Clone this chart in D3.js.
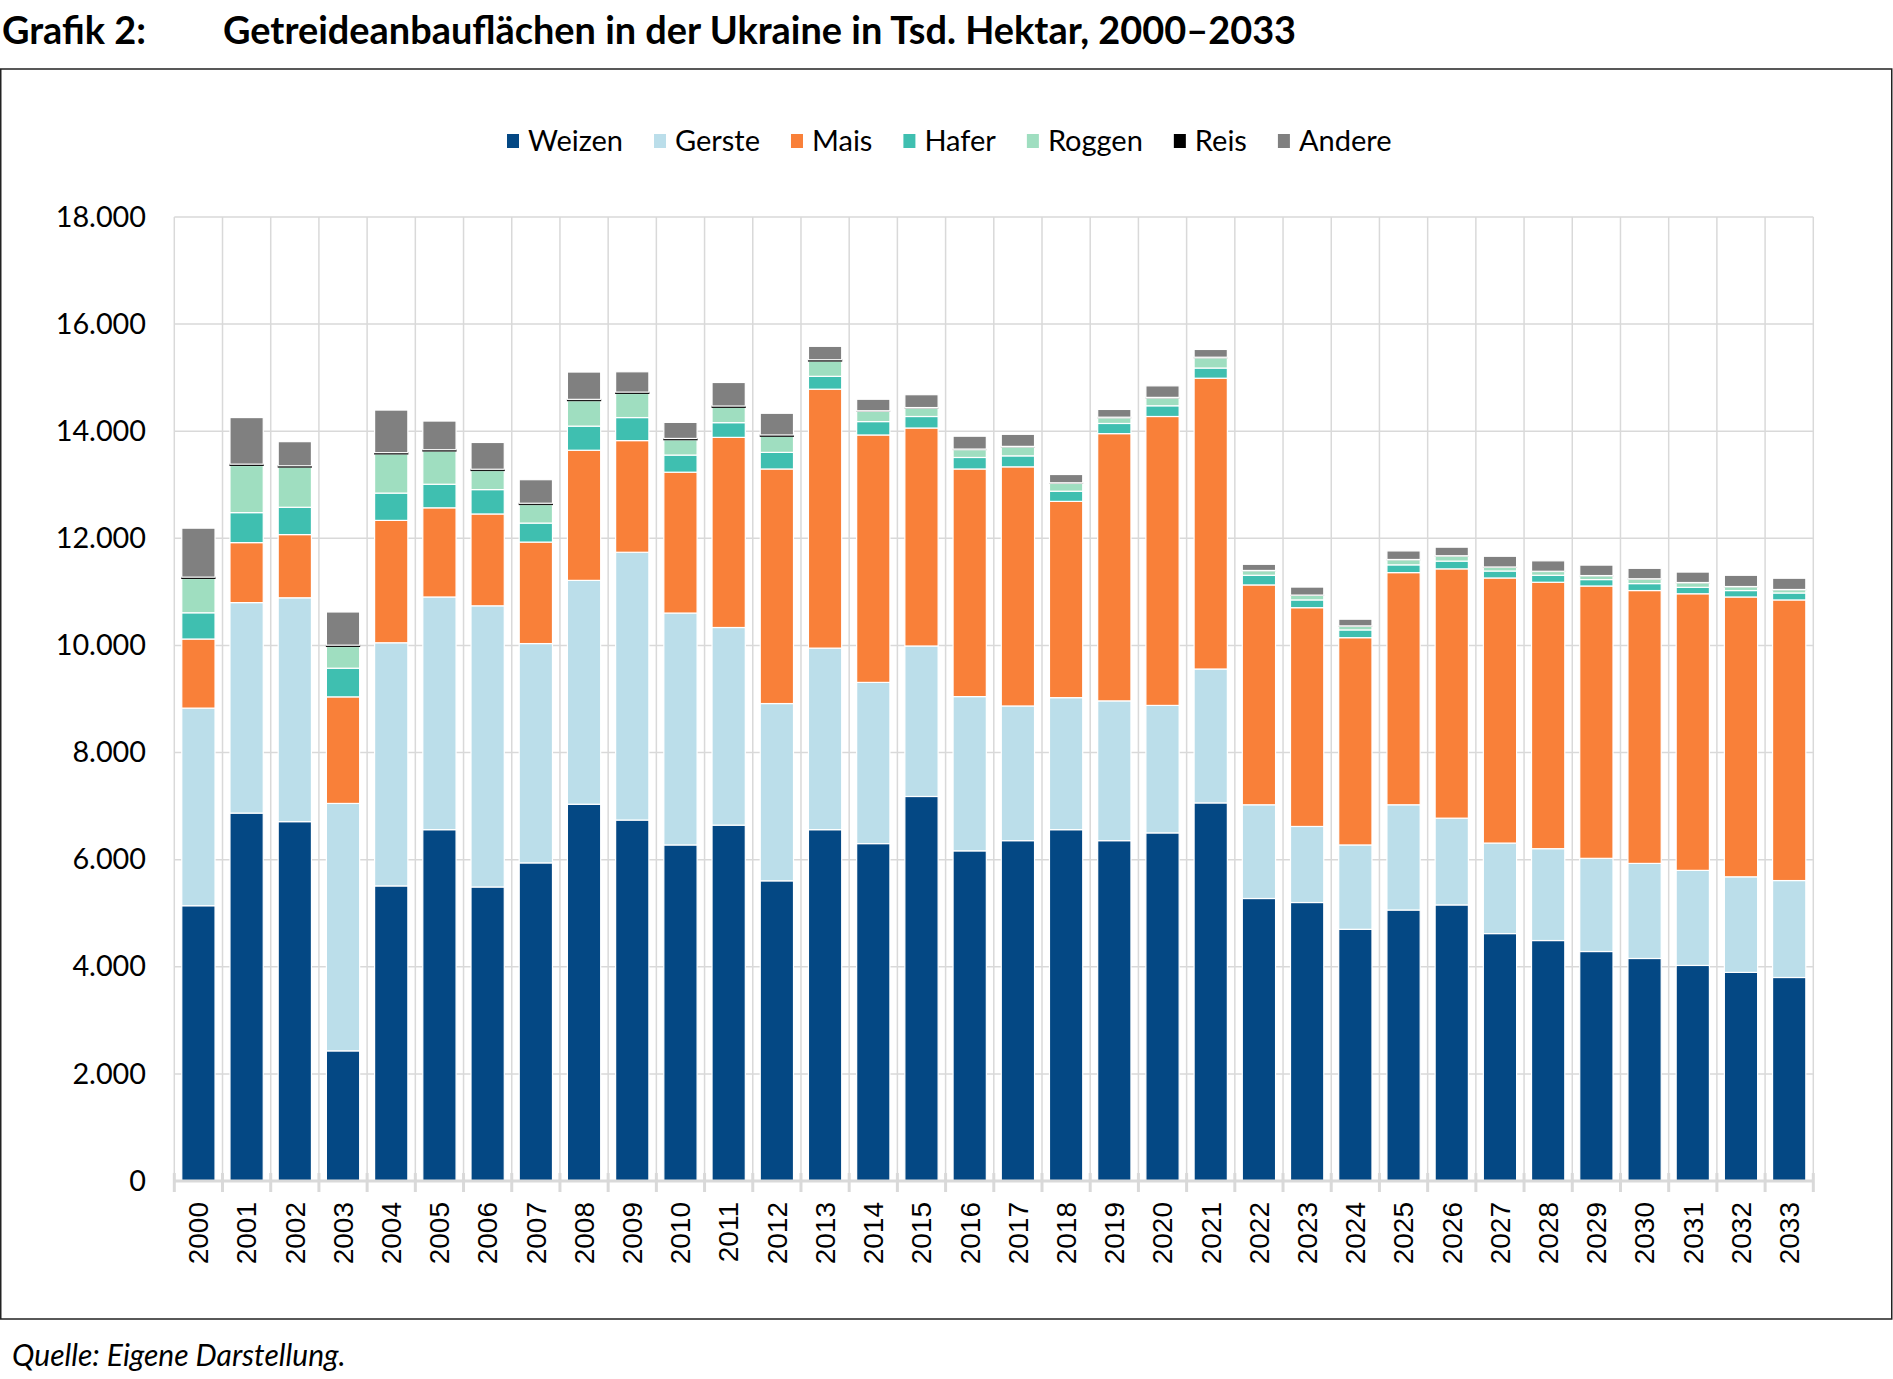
<!DOCTYPE html>
<html><head><meta charset="utf-8">
<script src="https://cdn.jsdelivr.net/npm/d3@7"></script>
<style>
body{margin:0;background:#fff;}
svg{display:block;font-family:Lato,"Noto Sans",sans-serif;}
</style></head><body>
<svg id="chart" width="1893" height="1379"></svg>
<script>
const years = ["2000","2001","2002","2003","2004","2005","2006","2007","2008","2009","2010","2011","2012","2013","2014","2015","2016","2017","2018","2019","2020","2021","2022","2023","2024","2025","2026","2027","2028","2029","2030","2031","2032","2033"];
const weizen = [5140,6870,6710,2430,5510,6560,5490,5940,7035,6740,6275,6645,5605,6560,6300,7180,6165,6355,6560,6355,6500,7060,5275,5200,4700,5060,5155,4620,4490,4285,4155,4025,3895,3800];
const gerste = [3690,3930,4180,4620,4540,4345,5250,4095,4180,5000,4330,3690,3310,3390,3010,2810,2880,2515,2465,2610,2380,2500,1750,1420,1575,1965,1620,1690,1715,1740,1775,1775,1785,1810];
const mais   = [1290,1120,1180,1990,2285,1665,1715,1895,2430,2085,2630,3550,4380,4835,4620,4070,4250,4465,3665,4990,5395,5430,4105,4085,3870,4335,4655,4950,4975,5085,5095,5165,5225,5240];
const hafer  = [490,560,510,535,510,440,455,355,450,430,320,275,310,240,250,215,215,205,190,190,200,190,180,145,145,145,145,130,130,120,130,120,120,130];
const roggen = [640,880,750,405,730,620,355,345,475,450,285,285,300,285,190,155,145,165,145,105,145,190,85,85,70,95,95,70,70,70,85,85,70,60];
const reis   = [25,25,25,25,25,25,25,25,25,25,25,25,25,25,12,12,12,12,12,12,12,12,5,5,5,5,5,5,5,5,5,5,5,5];
const andere = [915,870,450,620,795,535,500,440,510,380,300,440,405,250,215,240,240,225,155,145,215,145,115,150,125,160,160,200,195,195,195,195,210,210];
const seriesNames = ["Weizen","Gerste","Mais","Hafer","Roggen","Reis","Andere"];
const seriesColors = ["#044884","#BBDEEA","#F98039","#3FBFB0","#9FDEC0","#000000","#808080"];
const yTicks = [0,2000,4000,6000,8000,10000,12000,14000,16000,18000];
const titleLabel = "Grafik 2:";
const titleText = "Getreideanbauflächen in der Ukraine in Tsd. Hektar, 2000–2033";
const sourceText = "Quelle: Eigene Darstellung.";

const values = [weizen,gerste,mais,hafer,roggen,reis,andere];
const table = years.map((y,i)=>{const r={year:y}; seriesNames.forEach((s,k)=>r[s]=values[k][i]); return r;});

const svg = d3.select("#chart");
const W = 1893;
const plotL = 174.3, plotR = 1813.3, plotT = 217, plotB = 1181;

const x = d3.scaleBand().domain(years).range([plotL, plotR]).paddingInner(0.31).paddingOuter(0.155);
const y = d3.scaleLinear().domain([0,18000]).range([plotB, plotT]);
const color = d3.scaleOrdinal().domain(seriesNames).range(seriesColors);
const loc = d3.formatLocale({decimal:",",thousands:".",grouping:[3],currency:["",""]});
const fmt = loc.format(",");

// frame
svg.append("rect").attr("x",0.75).attr("y",69).attr("width",1891).attr("height",1250)
  .attr("fill","none").attr("stroke","#222").attr("stroke-width",1.5);

// title
svg.append("text").attr("x",2).attr("y",44).attr("font-size",37.9).attr("font-weight","bold").attr("fill","#000").text(titleLabel);
svg.append("text").attr("x",223).attr("y",44).attr("font-size",37.9).attr("font-weight","bold").attr("fill","#000").text(titleText);

// horizontal gridlines
svg.append("g").selectAll("line").data(yTicks.filter(d=>d>0)).join("line")
  .attr("x1",plotL).attr("x2",plotR).attr("y1",d=>y(d)).attr("y2",d=>y(d))
  .attr("stroke","#d9d9d9").attr("stroke-width",1.5);
// vertical gridlines at band boundaries
const step = x.step();
const bounds = d3.range(years.length+1).map(i=>plotL + i*step);
svg.append("g").selectAll("line").data(bounds).join("line")
  .attr("x1",d=>d).attr("x2",d=>d).attr("y1",plotT).attr("y2",plotB)
  .attr("stroke","#d9d9d9").attr("stroke-width",1.5);

// y axis labels
const yAxis = d3.axisLeft(y).tickValues(yTicks).tickFormat(fmt).tickSize(0).tickPadding(0);
const gy = svg.append("g").attr("transform","translate(146,0)").call(yAxis);
gy.select(".domain").remove();
gy.selectAll("text").attr("font-size",28.8).attr("font-family","Lato,'Noto Sans',sans-serif").attr("fill","#000");

// bars
const stack = d3.stack().keys(seriesNames)(table);
svg.append("g").selectAll("g").data(stack).join("g")
  .attr("fill",d=>color(d.key))
  .each(function(s){
    d3.select(this).selectAll("rect").data(s).join("rect")
      .attr("x",d=>x(d.data.year)).attr("width",x.bandwidth())
      .attr("y",d=>y(d[1])).attr("height",d=>Math.max(0,y(d[0])-y(d[1])))
      .attr("stroke",d=>s.key==="Reis" ? ((d[1]-d[0])>=20 ? "#111" : "#c8c8c8") : "#ffffff")
      .attr("stroke-width",s.key==="Reis" ? 1 : 1.2);
  });

// x axis
svg.append("line").attr("x1",plotL).attr("x2",plotR).attr("y1",plotB).attr("y2",plotB)
  .attr("stroke","#d9d9d9").attr("stroke-width",3);
svg.append("g").selectAll("line").data(bounds).join("line")
  .attr("x1",d=>d).attr("x2",d=>d).attr("y1",plotB-8).attr("y2",plotB+11)
  .attr("stroke","#d9d9d9").attr("stroke-width",3);
const xAxis = d3.axisBottom(x).tickSize(0).tickPadding(0);
const gx = svg.append("g").attr("transform",`translate(0,${plotB})`).call(xAxis);
gx.select(".domain").remove();
gx.selectAll("text").attr("font-size",28).attr("font-family","'Liberation Sans',Arial,sans-serif").attr("fill","#000")
  .attr("transform","rotate(-90)").attr("text-anchor","end").attr("dy","0.35em").attr("x",-21).attr("y",0);

// legend
const lg = svg.append("g");
let cx = 0;
seriesNames.forEach((s)=>{
  const g = lg.append("g");
  g.append("rect").attr("width",12).attr("height",14).attr("y",-7).attr("fill",color(s));
  const t = g.append("text").attr("x",21).attr("dy","0.35em").attr("font-size",29).attr("fill","#000").text(s);
  const w = 21 + t.node().getComputedTextLength();
  g.attr("transform",`translate(${cx},141)`);
  cx += w + 31;
});
const total = cx - 31;
lg.attr("transform",`translate(${507},0)`);

// source
svg.append("text").attr("x",12).attr("y",1366).attr("font-size",30).attr("font-style","italic").attr("fill","#000").text(sourceText);
</script>
</body></html>
